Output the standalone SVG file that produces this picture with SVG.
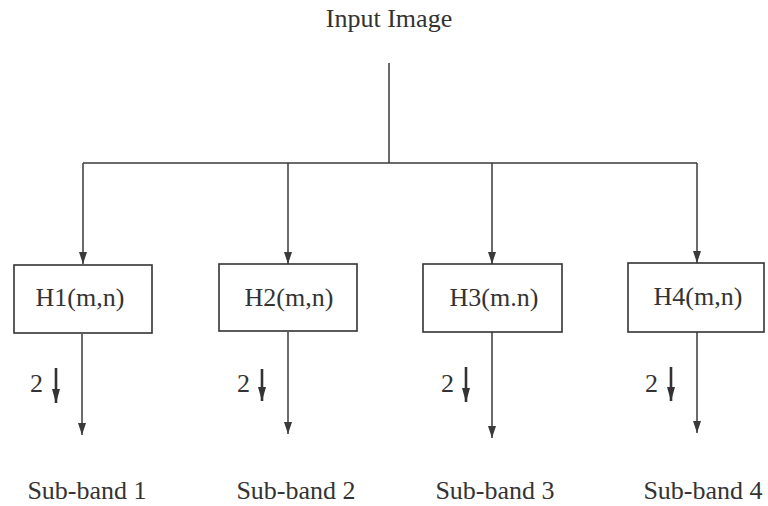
<svg xmlns="http://www.w3.org/2000/svg" width="768" height="506" viewBox="0 0 768 506">
<defs>
<style>
text{font-family:"Liberation Serif","Times New Roman",serif;font-size:26px;fill:#333}
.box{fill:#fff;stroke:#333;stroke-width:1.6}
.ln{fill:none;stroke:#3a3a3a;stroke-width:1.5}
.sm{fill:none;stroke:#333;stroke-width:2.6}
</style>
<marker id="ah" viewBox="0 0 10 10" preserveAspectRatio="none" refX="10" refY="5" markerWidth="12" markerHeight="8" markerUnits="userSpaceOnUse" orient="auto">
<path d="M0,0 L10,5 L0,10 z" fill="#3a3a3a"/>
</marker>
<marker id="sah" viewBox="0 0 10 10" preserveAspectRatio="none" refX="10" refY="5" markerWidth="14" markerHeight="8" markerUnits="userSpaceOnUse" orient="auto">
<path d="M0,0 L10,5 L0,10 z" fill="#333"/>
</marker>
</defs>
<rect width="768" height="506" fill="#fff"/>
<text x="389" y="27" text-anchor="middle">Input Image</text>
<g id="connectors">
<path class="ln" d="M389,63 V163"/>
<path class="ln" d="M83,163 H697"/>
<path class="ln" d="M83,163 V264" marker-end="url(#ah)"/>
<path class="ln" d="M288,163 V264" marker-end="url(#ah)"/>
<path class="ln" d="M492,163 V264" marker-end="url(#ah)"/>
<path class="ln" d="M697,163 V263" marker-end="url(#ah)"/>
<path class="ln" d="M82,334 V435" marker-end="url(#ah)"/>
<path class="ln" d="M288,332 V434" marker-end="url(#ah)"/>
<path class="ln" d="M492,332 V438" marker-end="url(#ah)"/>
<path class="ln" d="M697,332 V433" marker-end="url(#ah)"/>
</g>
<g id="h1">
<rect class="box" x="14" y="265" width="138" height="68"/>
<text x="80" y="306" text-anchor="middle">H1(m,n)</text>
</g>
<g id="h2">
<rect class="box" x="219" y="264" width="138" height="67"/>
<text x="289" y="306" text-anchor="middle">H2(m,n)</text>
</g>
<g id="h3">
<rect class="box" x="423" y="264" width="139" height="68"/>
<text x="494" y="306" text-anchor="middle">H3(m.n)</text>
</g>
<g id="h4">
<rect class="box" x="628" y="263" width="136" height="69"/>
<text x="698" y="305" text-anchor="middle">H4(m,n)</text>
</g>
<g id="down1">
<text x="30" y="392">2</text>
<path class="sm" d="M56,368 V403" marker-end="url(#sah)"/>
</g>
<g id="down2">
<text x="237" y="392">2</text>
<path class="sm" d="M262,369 V401" marker-end="url(#sah)"/>
</g>
<g id="down3">
<text x="441" y="392">2</text>
<path class="sm" d="M466,367 V402" marker-end="url(#sah)"/>
</g>
<g id="down4">
<text x="645" y="392">2</text>
<path class="sm" d="M671,367 V401" marker-end="url(#sah)"/>
</g>
<g id="sb1"><text x="87" y="499" text-anchor="middle">Sub-band 1</text></g>
<g id="sb2"><text x="296" y="499" text-anchor="middle">Sub-band 2</text></g>
<g id="sb3"><text x="495" y="499" text-anchor="middle">Sub-band 3</text></g>
<g id="sb4"><text x="703" y="499" text-anchor="middle">Sub-band 4</text></g>
</svg>
